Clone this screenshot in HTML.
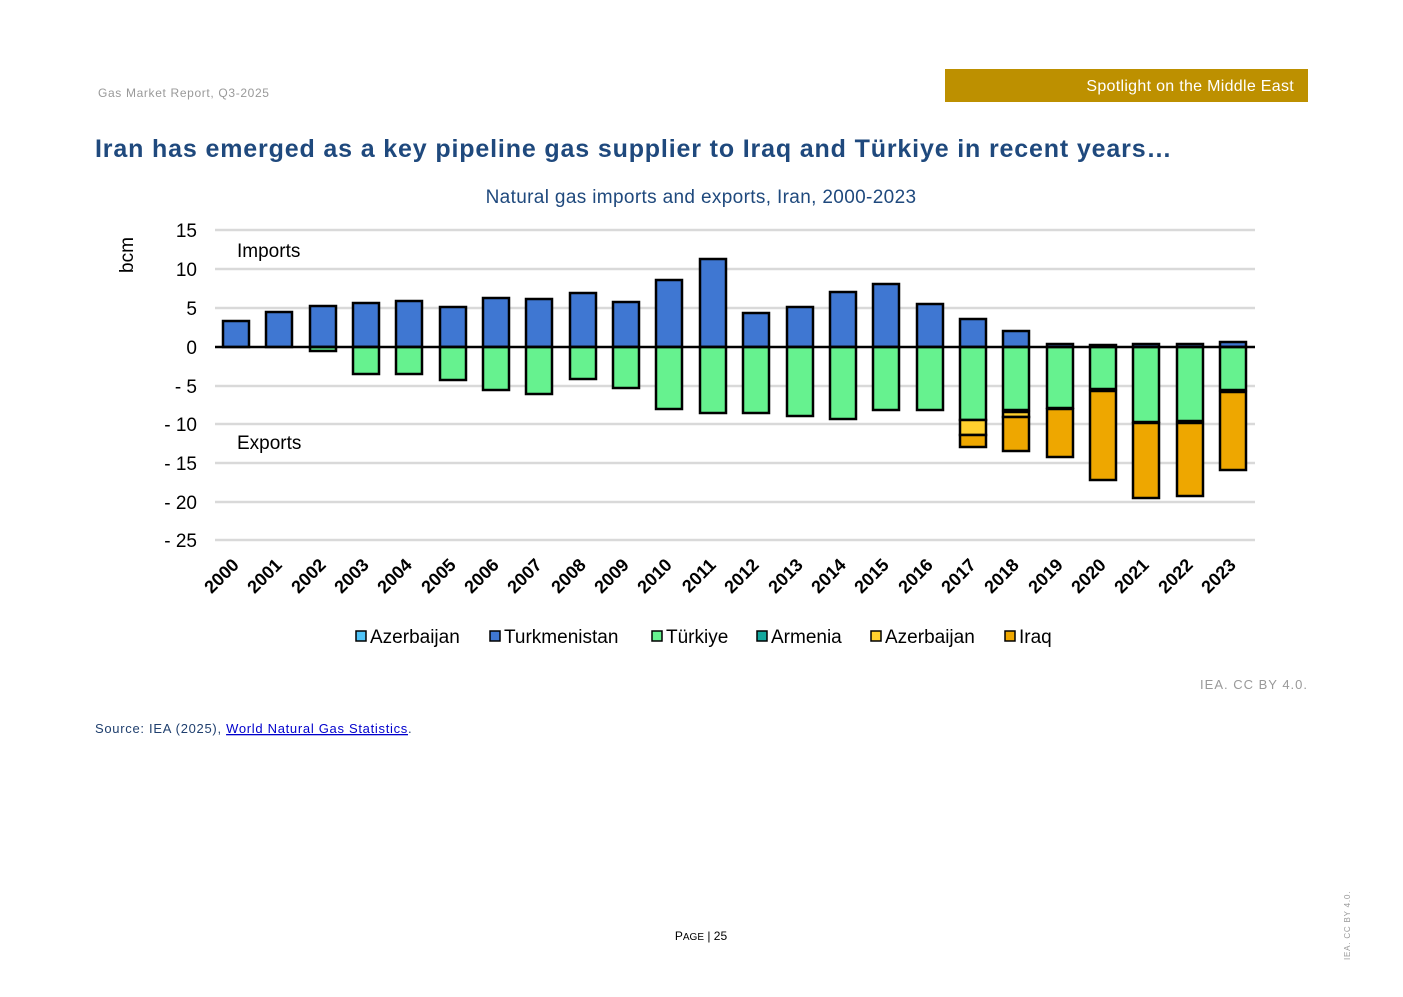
<!DOCTYPE html>
<html><head><meta charset="utf-8"><style>
body{margin:0;background:#fff;}
svg text{font-family:"Liberation Sans",Arial,sans-serif;}
</style></head><body>
<svg width="1403" height="992" viewBox="0 0 1403 992" xmlns="http://www.w3.org/2000/svg">
<text x="98" y="97" font-size="12" fill="#999" letter-spacing="0.65">Gas Market Report, Q3-2025</text>
<rect x="945" y="69" width="363" height="33" fill="#bd9000"/>
<text x="1294" y="91" font-size="16" fill="#fff" text-anchor="end" letter-spacing="0.3">Spotlight on the Middle East</text>
<text x="95" y="157" font-size="25" font-weight="bold" fill="#1f497d" letter-spacing="0.85">Iran has emerged as a key pipeline gas supplier to Iraq and Türkiye in recent years…</text>
<text x="701" y="203" font-size="19" fill="#1f497d" text-anchor="middle" letter-spacing="0.35">Natural gas imports and exports, Iran, 2000-2023</text>
<g stroke="#d9d9d9" stroke-width="2.5">
<line x1="215" x2="1255" y1="230" y2="230"/><line x1="215" x2="1255" y1="269" y2="269"/><line x1="215" x2="1255" y1="308" y2="308"/><line x1="215" x2="1255" y1="386" y2="386"/><line x1="215" x2="1255" y1="424" y2="424"/><line x1="215" x2="1255" y1="463" y2="463"/><line x1="215" x2="1255" y1="502" y2="502"/><line x1="215" x2="1255" y1="540" y2="540"/>
</g>
<g font-size="19" fill="#000" text-anchor="end">
<text x="197" y="237">15</text><text x="197" y="276">10</text><text x="197" y="315">5</text><text x="197" y="354">0</text><text x="197" y="393">- 5</text><text x="197" y="431">- 10</text><text x="197" y="470">- 15</text><text x="197" y="509">- 20</text><text x="197" y="547">- 25</text>
</g>
<text x="133" y="255" font-size="19" transform="rotate(-90 133 255)" text-anchor="middle">bcm</text>
<text x="237" y="257" font-size="19">Imports</text>
<text x="237" y="449" font-size="19">Exports</text>
<g stroke="#000" stroke-width="2.5">
<g fill="#3f77d2">
<rect x="223" y="321" width="26" height="26"/><rect x="266" y="312" width="26" height="35"/><rect x="310" y="306" width="26" height="41"/><rect x="353" y="303" width="26" height="44"/><rect x="396" y="301" width="26" height="46"/><rect x="440" y="307" width="26" height="40"/><rect x="483" y="298" width="26" height="49"/><rect x="526" y="299" width="26" height="48"/><rect x="570" y="293" width="26" height="54"/><rect x="613" y="302" width="26" height="45"/><rect x="656" y="280" width="26" height="67"/><rect x="700" y="259" width="26" height="88"/><rect x="743" y="313" width="26" height="34"/><rect x="787" y="307" width="26" height="40"/><rect x="830" y="292" width="26" height="55"/><rect x="873" y="284" width="26" height="63"/><rect x="917" y="304" width="26" height="43"/><rect x="960" y="319" width="26" height="28"/><rect x="1003" y="331" width="26" height="16"/><rect x="1047" y="344" width="26" height="3"/><rect x="1090" y="345" width="26" height="2"/><rect x="1133" y="344" width="26" height="3"/><rect x="1177" y="344" width="26" height="3"/><rect x="1220" y="342" width="26" height="5"/>
</g>
<g fill="#66f28f">
<rect x="310" y="347" width="26" height="4"/><rect x="353" y="347" width="26" height="27"/><rect x="396" y="347" width="26" height="27"/><rect x="440" y="347" width="26" height="33"/><rect x="483" y="347" width="26" height="43"/><rect x="526" y="347" width="26" height="47"/><rect x="570" y="347" width="26" height="32"/><rect x="613" y="347" width="26" height="41"/><rect x="656" y="347" width="26" height="62"/><rect x="700" y="347" width="26" height="66"/><rect x="743" y="347" width="26" height="66"/><rect x="787" y="347" width="26" height="69"/><rect x="830" y="347" width="26" height="72"/><rect x="873" y="347" width="26" height="63"/><rect x="917" y="347" width="26" height="63"/><rect x="960" y="347" width="26" height="73"/><rect x="1003" y="347" width="26" height="63"/><rect x="1047" y="347" width="26" height="61"/><rect x="1090" y="347" width="26" height="42"/><rect x="1133" y="347" width="26" height="75"/><rect x="1177" y="347" width="26" height="74"/><rect x="1220" y="347" width="26" height="43"/>
</g>
<g fill="#ffd02e">
<rect x="960" y="420" width="26" height="15"/><rect x="1003" y="412" width="26" height="5"/>
</g>
<g fill="#eea700">
<rect x="960" y="435" width="26" height="12"/><rect x="1003" y="417" width="26" height="34"/><rect x="1047" y="409" width="26" height="48"/><rect x="1090" y="391" width="26" height="89"/><rect x="1133" y="423" width="26" height="75"/><rect x="1177" y="423" width="26" height="73"/><rect x="1220" y="392" width="26" height="78"/>
</g>
</g>
<line x1="215" x2="1255" y1="347" y2="347" stroke="#000" stroke-width="2.5"/>
<g font-size="18" font-weight="bold" fill="#000" text-anchor="end">
<text transform="translate(240,566) rotate(-45)">2000</text><text transform="translate(283,566) rotate(-45)">2001</text><text transform="translate(327,566) rotate(-45)">2002</text><text transform="translate(370,566) rotate(-45)">2003</text><text transform="translate(413,566) rotate(-45)">2004</text><text transform="translate(457,566) rotate(-45)">2005</text><text transform="translate(500,566) rotate(-45)">2006</text><text transform="translate(543,566) rotate(-45)">2007</text><text transform="translate(587,566) rotate(-45)">2008</text><text transform="translate(630,566) rotate(-45)">2009</text><text transform="translate(673,566) rotate(-45)">2010</text><text transform="translate(717,566) rotate(-45)">2011</text><text transform="translate(760,566) rotate(-45)">2012</text><text transform="translate(804,566) rotate(-45)">2013</text><text transform="translate(847,566) rotate(-45)">2014</text><text transform="translate(890,566) rotate(-45)">2015</text><text transform="translate(934,566) rotate(-45)">2016</text><text transform="translate(977,566) rotate(-45)">2017</text><text transform="translate(1020,566) rotate(-45)">2018</text><text transform="translate(1064,566) rotate(-45)">2019</text><text transform="translate(1107,566) rotate(-45)">2020</text><text transform="translate(1150,566) rotate(-45)">2021</text><text transform="translate(1194,566) rotate(-45)">2022</text><text transform="translate(1237,566) rotate(-45)">2023</text>
</g>
<g stroke="#000" stroke-width="1.5" font-size="19">
<rect x="356" y="631" width="10" height="10" fill="#4fc3f7"/><text x="370" y="643" stroke="none">Azerbaijan</text>
<rect x="490" y="631" width="10" height="10" fill="#3f77d2"/><text x="504" y="643" stroke="none">Turkmenistan</text>
<rect x="652" y="631" width="10" height="10" fill="#66f28f"/><text x="666" y="643" stroke="none">Türkiye</text>
<rect x="757" y="631" width="10" height="10" fill="#13a89e"/><text x="771" y="643" stroke="none">Armenia</text>
<rect x="871" y="631" width="10" height="10" fill="#ffd02e"/><text x="885" y="643" stroke="none">Azerbaijan</text>
<rect x="1005" y="631" width="10" height="10" fill="#eea700"/><text x="1019" y="643" stroke="none">Iraq</text>
</g>
<text x="1308" y="689" font-size="13" fill="#999" text-anchor="end" letter-spacing="1">IEA. CC BY 4.0.</text>
<text x="95" y="733" font-size="13" fill="#1f3f6e" letter-spacing="0.7">Source: IEA (2025), <tspan fill="#0000cc" text-decoration="underline">World Natural Gas Statistics</tspan>.</text>
<text x="701" y="940" font-size="12" fill="#000" text-anchor="middle">P<tspan font-size="10">AGE</tspan> | 25</text>
<text transform="translate(1350,960) rotate(-90)" font-size="8" fill="#999" letter-spacing="0.8">IEA. CC BY 4.0.</text>
</svg>
</body></html>
